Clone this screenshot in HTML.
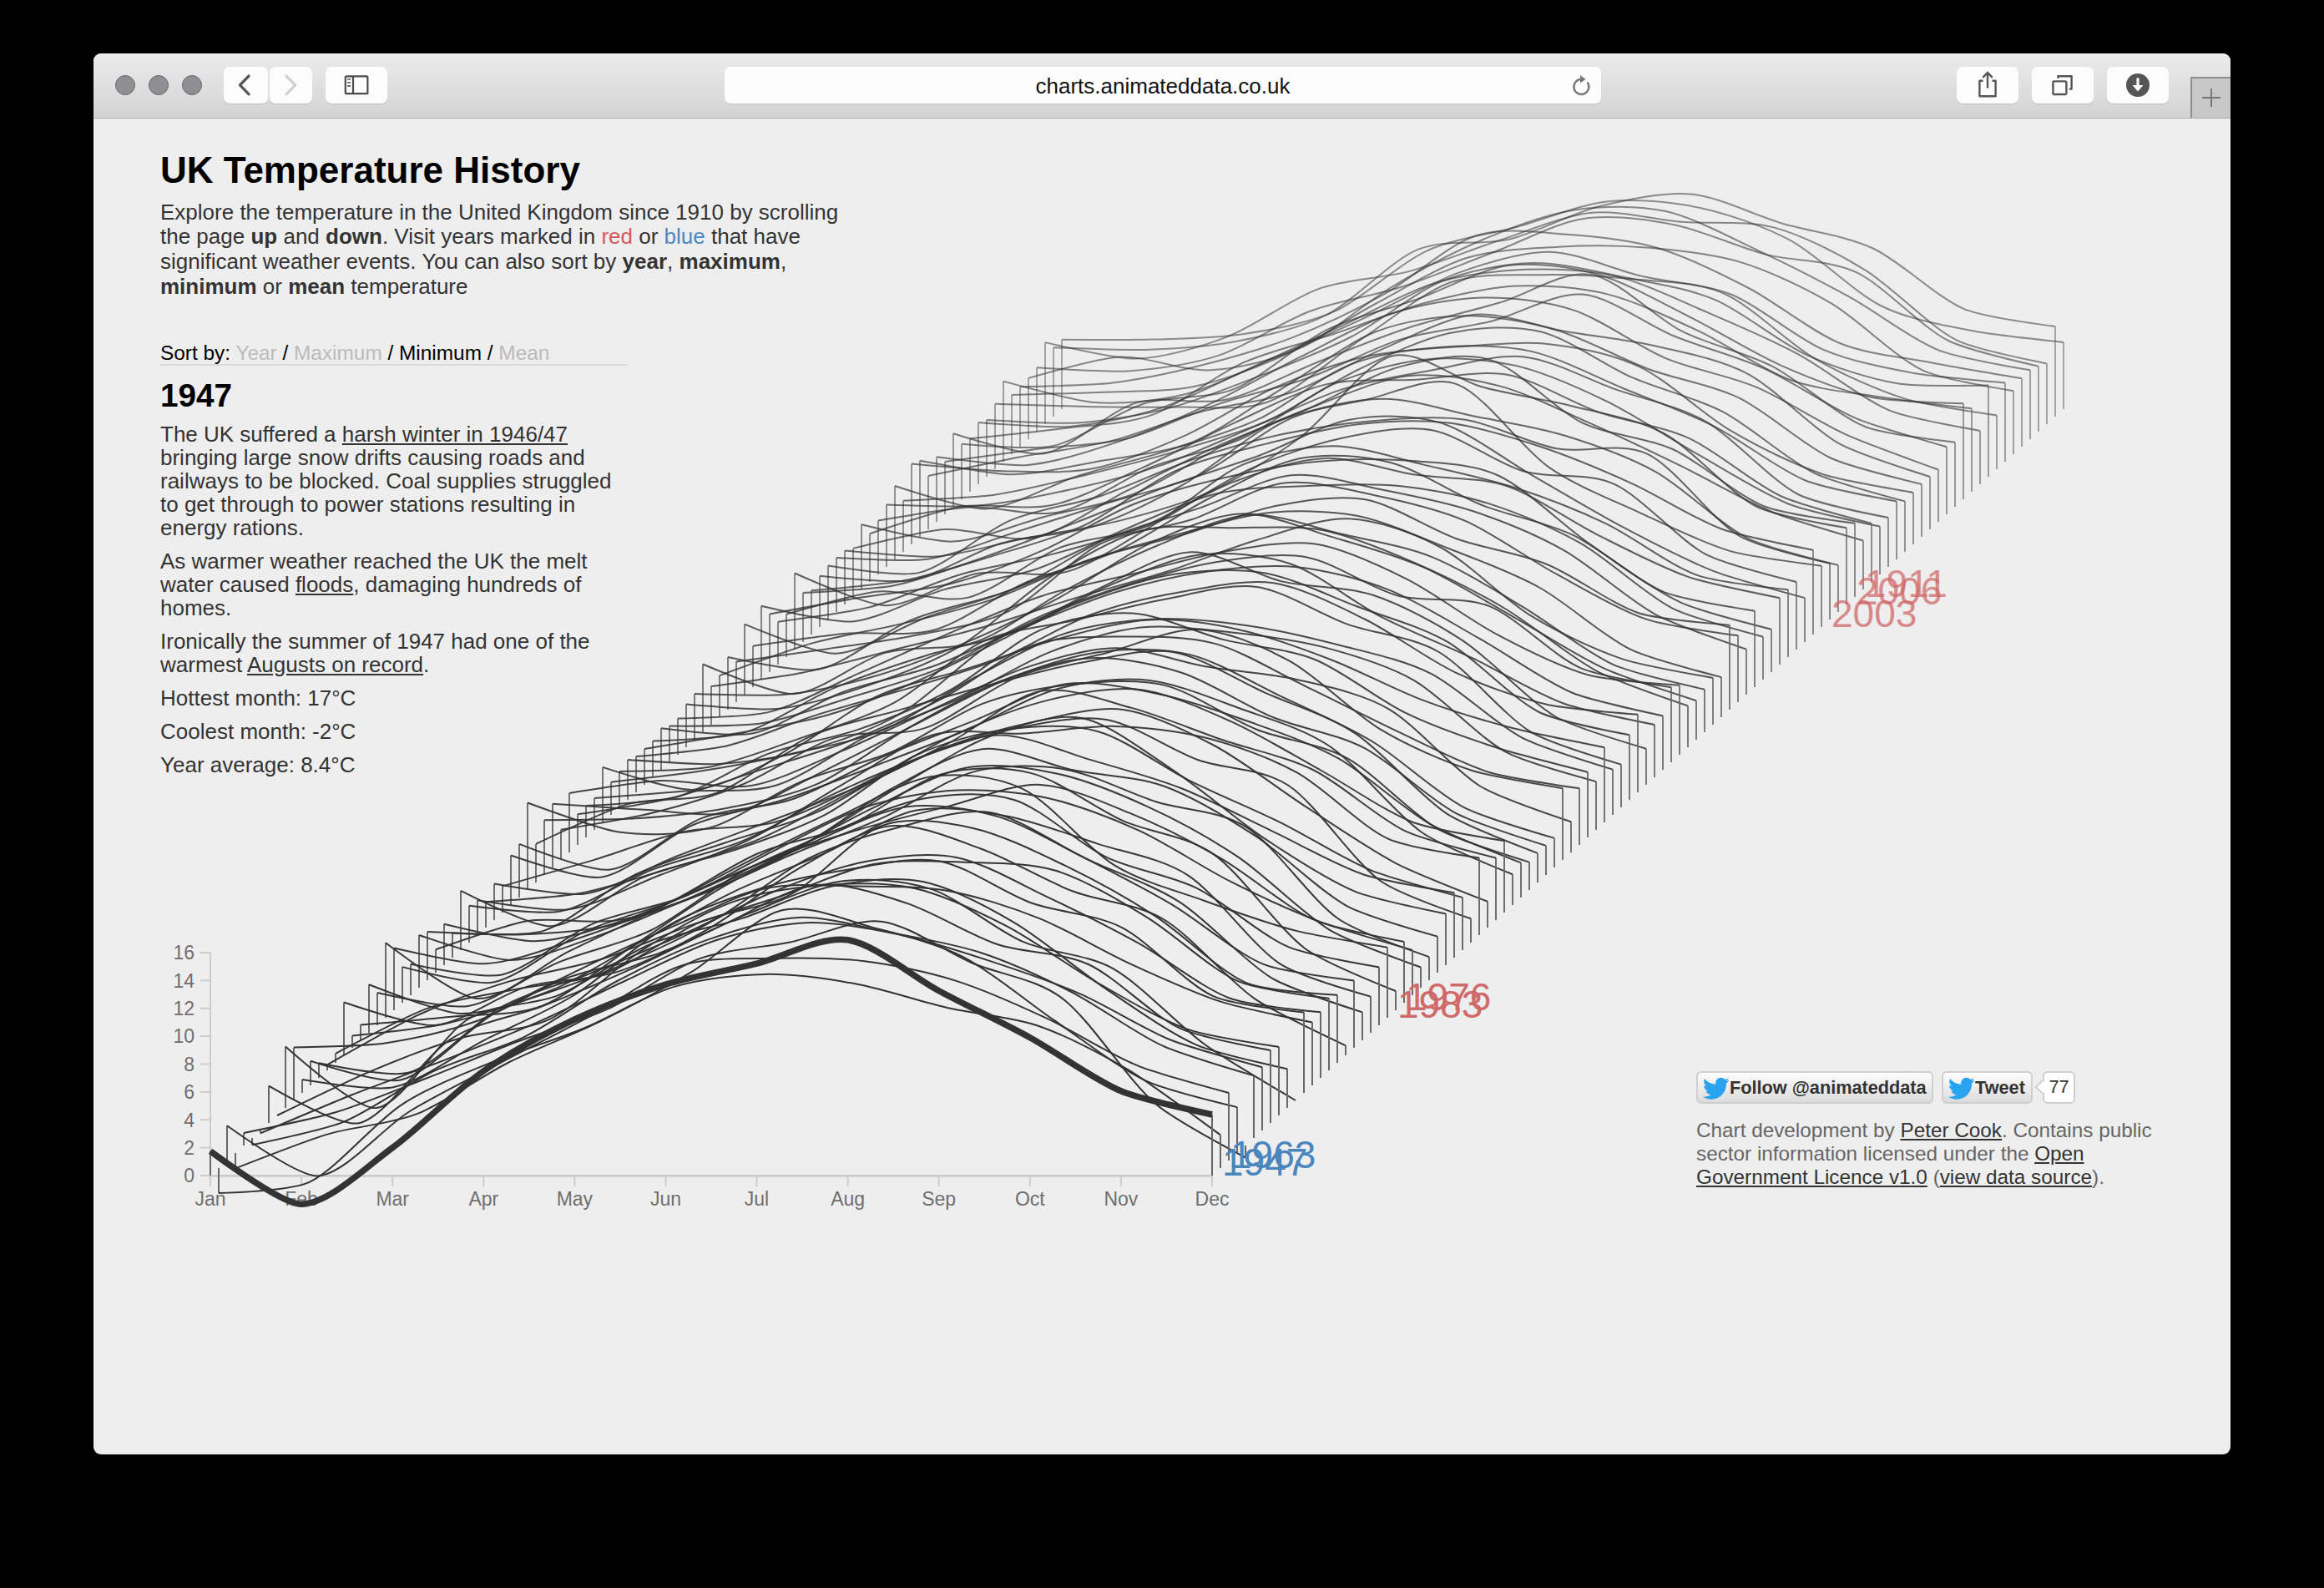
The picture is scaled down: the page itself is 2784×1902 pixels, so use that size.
<!DOCTYPE html>
<html><head><meta charset="utf-8">
<style>
*{margin:0;padding:0;box-sizing:border-box}
html,body{width:2784px;height:1902px;background:#000;overflow:hidden}
body{position:relative;font-family:"Liberation Sans",sans-serif}
#win{position:absolute;left:112px;top:64px;width:2560px;height:1678px;background:#eee;border-radius:9px;overflow:hidden}
#tb{position:absolute;left:0;top:0;width:2560px;height:78px;background:linear-gradient(#ececec,#d3d3d3);border-bottom:1px solid #a9a9a9}
.tl{position:absolute;top:26px;width:24px;height:24px;border-radius:50%;background:#8f8e93;border:1.5px solid #69686d}
.btn{position:absolute;top:16px;height:44px;background:#fcfcfc;border-radius:7px;box-shadow:0 1px 0 #bdbdbd}
#url{position:absolute;left:756px;top:16px;width:1050px;height:44px;background:#fdfdfd;border-radius:7px;box-shadow:0 1px 0 #c4c4c4}
#urltext{position:absolute;left:0;width:100%;top:8px;text-align:center;font-size:26px;color:#111;letter-spacing:0px}
#newtab{position:absolute;left:2512px;top:28px;width:48px;height:49px;background:#c8c8c8;border-left:2px solid #8e8e8e;border-top:2px solid #8e8e8e}
.pg{position:absolute;color:#333}
h1{position:absolute;left:80px;top:118px;font-size:44px;line-height:44px;font-weight:bold;color:#000;white-space:nowrap}
#intro{left:80px;top:175.5px;font-size:26px;line-height:29.8px;white-space:nowrap}
#intro b{color:#333}
.red{color:#d55a5a}.blue{color:#4a87c4}
#sort{left:80px;top:344.5px;width:560px;height:29px;font-size:24.4px;line-height:28px;color:#000;border-bottom:2px solid #dadada;white-space:nowrap}
#sort .g{color:#bbb}
#year{left:80px;top:390px;font-size:38.7px;line-height:40px;font-weight:bold;color:#000}
#story{left:80px;top:442px;font-size:26px;line-height:28px;white-space:nowrap}
#story p{margin-bottom:12px}
#story a{color:#333;text-decoration:underline}
#credits{left:1920px;top:1276px;font-size:24.3px;line-height:28px;color:#666;white-space:nowrap}
#credits a{color:#333;text-decoration:underline}
.tw{position:absolute;top:1218.5px;height:39px;border:2px solid #cfcfcf;border-radius:6px;background:linear-gradient(#fdfdfd,#dcdcdc);font-weight:bold;font-size:21.7px;line-height:34px;color:#333;white-space:nowrap}
.tw .bird{position:absolute;left:6px;top:5px}
.tw span{position:absolute;left:38px;top:1.5px}
#follow{left:1920px;width:284px}
#tweet{left:2214px;width:109px}
#count{position:absolute;left:2335px;top:1218.5px;width:39px;height:39px;border:2px solid #cfcfcf;border-radius:6px;background:#fff;font-size:21.7px;line-height:34px;color:#333;text-align:center}
#nub{position:absolute;left:-9px;top:11px;width:12px;height:12px;background:#fff;border-left:2px solid #cfcfcf;border-bottom:2px solid #cfcfcf;transform:rotate(45deg)}
#chart{position:absolute;left:-112px;top:-64px}
</style></head><body>
<div id="win">
 <div id="tb">
  <div class="tl" style="left:26px"></div>
  <div class="tl" style="left:66px"></div>
  <div class="tl" style="left:106px"></div>
  <div class="btn" style="left:156px;width:53px"><svg width="53" height="44"><path d="M30.1,11 L19.4,21.8 L30.1,32.8" stroke="#555" stroke-width="3.2" fill="none" stroke-linecap="round" stroke-linejoin="round"/></svg></div>
  <div class="btn" style="left:211px;width:51px"><svg width="51" height="44"><path d="M20,11 L30.7,21.8 L20,32.8" stroke="#d0d0d0" stroke-width="3.2" fill="none" stroke-linecap="round" stroke-linejoin="round"/></svg></div>
  <div class="btn" style="left:278px;width:74px"><svg width="74" height="44"><rect x="23.8" y="11.4" width="26.6" height="20.8" rx="1.5" stroke="#4a4a4a" stroke-width="2.2" fill="none"/><line x1="33" y1="11" x2="33" y2="33" stroke="#4a4a4a" stroke-width="2.2"/><line x1="26.2" y1="14.9" x2="30" y2="14.9" stroke="#666" stroke-width="1.8"/><line x1="26.2" y1="18.9" x2="30" y2="18.9" stroke="#666" stroke-width="1.8"/><line x1="26.2" y1="23" x2="30" y2="23" stroke="#666" stroke-width="1.8"/></svg></div>
  <div id="url"><div id="urltext">charts.animateddata.co.uk</div>
   <svg style="position:absolute;left:1011px;top:6px" width="30" height="32"><path d="M22.5,12.5 A9,9 0 1 1 15,9" stroke="#777" stroke-width="2.4" fill="none"/><path d="M14,4 L20.5,9 L14,13.5 Z" fill="#777"/></svg>
  </div>
  <div class="btn" style="left:2232px;width:74px"><svg width="74" height="44"><path d="M31.5,16.8 H27.4 V35.2 H46.6 V16.8 H42.5" stroke="#555" stroke-width="2.4" fill="none" stroke-linejoin="round"/><line x1="37" y1="7" x2="37" y2="25.5" stroke="#555" stroke-width="2.4"/><path d="M31.3,12.8 L37,7 L42.7,12.8" stroke="#555" stroke-width="2.4" fill="none"/></svg></div>
  <div class="btn" style="left:2322px;width:74px"><svg width="74" height="44"><rect x="25.4" y="17.4" width="16" height="15.6" rx="1.5" stroke="#555" stroke-width="2.4" fill="none"/><path d="M31.4,13.8 V11.2 H47.6 V26.6 H44.8" stroke="#555" stroke-width="2.4" fill="none" stroke-linejoin="round"/></svg></div>
  <div class="btn" style="left:2412px;width:74px"><svg width="74" height="44"><circle cx="37" cy="22" r="14" fill="#555"/><path d="M37,13.5 V27" stroke="#fff" stroke-width="3.2"/><path d="M30.5,22 L37,29.5 L43.5,22 Z" fill="#fff"/></svg></div>
  <div id="newtab"><svg width="46" height="47"><path d="M12,23 H34 M23,12 V34" stroke="#777" stroke-width="2"/></svg></div>
 </div>
 <h1>UK Temperature History</h1>
 <div class="pg" id="intro">Explore the temperature in the United Kingdom since 1910 by scrolling<br>the page <b>up</b> and <b>down</b>. Visit years marked in <span class="red">red</span> or <span class="blue">blue</span> that have<br>significant weather events. You can also sort by <b>year</b>, <b>maximum</b>,<br><b>minimum</b> or <b>mean</b> temperature</div>
 <div class="pg" id="sort">Sort by: <span class="g">Year</span> / <span class="g">Maximum</span> / Minimum / <span class="g">Mean</span></div>
 <div class="pg" id="year">1947</div>
 <div class="pg" id="story">
  <p>The UK suffered a <a>harsh winter in 1946/47</a><br>bringing large snow drifts causing roads and<br>railways to be blocked. Coal supplies struggled<br>to get through to power stations resulting in<br>energy rations.</p>
  <p>As warmer weather reached the UK the melt<br>water caused <a>floods</a>, damaging hundreds of<br>homes.</p>
  <p>Ironically the summer of 1947 had one of the<br>warmest <a>Augusts on record</a>.</p>
  <p>Hottest month: 17°C</p>
  <p>Coolest month: -2°C</p>
  <p>Year average: 8.4°C</p>
 </div>
 <div class="tw" id="follow"><svg class="bird" width="32" height="28" viewBox="0 0 24 20"><path d="M23.6,2.4c-0.9,0.4-1.8,0.6-2.8,0.8c1-0.6,1.8-1.5,2.1-2.7c-0.9,0.6-2,1-3.1,1.2C18.9,0.7,17.6,0.1,16.2,0.1c-2.7,0-4.8,2.2-4.8,4.8c0,0.4,0,0.8,0.1,1.1C7.4,5.8,3.9,3.9,1.6,1C1.2,1.7,0.9,2.6,0.9,3.5c0,1.7,0.9,3.2,2.2,4C2.3,7.5,1.5,7.3,0.9,7v0.1c0,2.3,1.7,4.3,3.9,4.7c-0.4,0.1-0.8,0.2-1.3,0.2c-0.3,0-0.6,0-0.9-0.1c0.6,1.9,2.4,3.3,4.5,3.4c-1.7,1.3-3.7,2.1-6,2.1c-0.4,0-0.8,0-1.2-0.1c2.1,1.4,4.7,2.2,7.4,2.2c8.9,0,13.7-7.4,13.7-13.7V5.2C22.1,4.5,22.9,3.6,23.6,2.4z" fill="#2aa3ef"/></svg><span>Follow @animateddata</span></div>
 <div class="tw" id="tweet"><svg class="bird" width="32" height="28" viewBox="0 0 24 20"><path d="M23.6,2.4c-0.9,0.4-1.8,0.6-2.8,0.8c1-0.6,1.8-1.5,2.1-2.7c-0.9,0.6-2,1-3.1,1.2C18.9,0.7,17.6,0.1,16.2,0.1c-2.7,0-4.8,2.2-4.8,4.8c0,0.4,0,0.8,0.1,1.1C7.4,5.8,3.9,3.9,1.6,1C1.2,1.7,0.9,2.6,0.9,3.5c0,1.7,0.9,3.2,2.2,4C2.3,7.5,1.5,7.3,0.9,7v0.1c0,2.3,1.7,4.3,3.9,4.7c-0.4,0.1-0.8,0.2-1.3,0.2c-0.3,0-0.6,0-0.9-0.1c0.6,1.9,2.4,3.3,4.5,3.4c-1.7,1.3-3.7,2.1-6,2.1c-0.4,0-0.8,0-1.2-0.1c2.1,1.4,4.7,2.2,7.4,2.2c8.9,0,13.7-7.4,13.7-13.7V5.2C22.1,4.5,22.9,3.6,23.6,2.4z" fill="#2aa3ef"/></svg><span>Tweet</span></div>
 <div id="count"><div id="nub"></div>77</div>
 <div class="pg" id="credits">Chart development by <a>Peter Cook</a>. Contains public<br>sector information licensed under the <a>Open</a><br><a>Government Licence v1.0</a> (<a>view data source</a>).</div>
 <svg id="chart" width="2784" height="1902">
 <g fill="none" stroke="#ccc">
<path d="M252,1141V1408" stroke-width="2"/>
<path d="M252,1408.4H1452" stroke-width="2.6"/>
<path d="M240,1408.0H252" stroke-width="2"/>
<path d="M240,1374.6H252" stroke-width="2"/>
<path d="M240,1341.2H252" stroke-width="2"/>
<path d="M240,1307.9H252" stroke-width="2"/>
<path d="M240,1274.5H252" stroke-width="2"/>
<path d="M240,1241.1H252" stroke-width="2"/>
<path d="M240,1207.7H252" stroke-width="2"/>
<path d="M240,1174.3H252" stroke-width="2"/>
<path d="M240,1141.0H252" stroke-width="2"/>
<path d="M252.0,1408V1421" stroke-width="2"/>
<path d="M361.1,1408V1421" stroke-width="2"/>
<path d="M470.2,1408V1421" stroke-width="2"/>
<path d="M579.3,1408V1421" stroke-width="2"/>
<path d="M688.4,1408V1421" stroke-width="2"/>
<path d="M797.5,1408V1421" stroke-width="2"/>
<path d="M906.5,1408V1421" stroke-width="2"/>
<path d="M1015.6,1408V1421" stroke-width="2"/>
<path d="M1124.7,1408V1421" stroke-width="2"/>
<path d="M1233.8,1408V1421" stroke-width="2"/>
<path d="M1342.9,1408V1421" stroke-width="2"/>
<path d="M1452.0,1408V1421" stroke-width="2"/>
</g>
<g font-family="Liberation Sans" font-size="23" fill="#6e6e6e">
<text x="233" y="1416.3" text-anchor="end">0</text>
<text x="233" y="1382.9" text-anchor="end">2</text>
<text x="233" y="1349.5" text-anchor="end">4</text>
<text x="233" y="1316.2" text-anchor="end">6</text>
<text x="233" y="1282.8" text-anchor="end">8</text>
<text x="233" y="1249.4" text-anchor="end">10</text>
<text x="233" y="1216.0" text-anchor="end">12</text>
<text x="233" y="1182.6" text-anchor="end">14</text>
<text x="233" y="1149.3" text-anchor="end">16</text>
<text x="252.0" y="1443.5" text-anchor="middle">Jan</text>
<text x="361.1" y="1443.5" text-anchor="middle">Feb</text>
<text x="470.2" y="1443.5" text-anchor="middle">Mar</text>
<text x="579.3" y="1443.5" text-anchor="middle">Apr</text>
<text x="688.4" y="1443.5" text-anchor="middle">May</text>
<text x="797.5" y="1443.5" text-anchor="middle">Jun</text>
<text x="906.5" y="1443.5" text-anchor="middle">Jul</text>
<text x="1015.6" y="1443.5" text-anchor="middle">Aug</text>
<text x="1124.7" y="1443.5" text-anchor="middle">Sep</text>
<text x="1233.8" y="1443.5" text-anchor="middle">Oct</text>
<text x="1342.9" y="1443.5" text-anchor="middle">Nov</text>
<text x="1452.0" y="1443.5" text-anchor="middle">Dec</text>
</g><g opacity="0.530"><path d="M1272.0,490.0V406.8M2472.0,410.0V490.0" stroke="#666" stroke-width="2" fill="none"/><path d="M1272,406.8Q1359.3,407.3,1381.1,406.6C1413.8,405.6,1457.5,405.1,1490.2,400S1566.5,387.6,1599.3,372.7S1675.6,315.9,1708.4,300.8S1784.7,280.7,1817.5,271.8S1893.8,244.6,1926.5,241.2S2002.9,241.8,2035.6,248.8S2112,270.2,2144.7,287.9S2221.1,350.2,2253.8,366.5S2330.2,389.8,2362.9,396.3Q2384.7,400.7,2472,410" stroke="#333" stroke-width="2" fill="none"/></g>
<g opacity="0.538"><path d="M1262.0,499.0V416.3M2462.0,391.1V499.0" stroke="#666" stroke-width="2" fill="none"/><path d="M1262,416.3Q1349.3,419.7,1371.1,419C1403.8,417.9,1447.5,415.3,1480.2,409S1556.5,393.6,1589.3,377.1S1665.6,312.4,1698.4,298.9S1774.7,294.5,1807.5,286.7S1883.8,255.1,1916.5,247S1992.9,229.5,2025.6,232.5S2102,257.8,2134.7,267.5S2211.1,282.1,2243.8,297.5S2320.2,356.1,2352.9,370.2Q2374.7,379.5,2462,391.1" stroke="#333" stroke-width="2" fill="none"/></g>
<g opacity="0.546"><path d="M1252.0,508.0V410.1M2452.0,435.4V508.0" stroke="#666" stroke-width="2" fill="none"/><path d="M1252,410.1Q1339.3,430.2,1361.1,429.6C1393.8,428.6,1437.5,416,1470.2,403.4S1546.5,357.9,1579.3,346.1S1655.6,333.7,1688.4,324.9S1764.7,298,1797.5,287.4S1873.8,257.9,1906.5,254.7S1982.9,263.1,2015.6,265.8S2092,263.8,2124.7,272.4S2201.1,303,2233.8,323.1S2310.2,390,2342.9,406.9Q2364.7,418.1,2452,435.4" stroke="#333" stroke-width="2" fill="none"/></g>
<g opacity="0.555"><path d="M1242.0,517.0V440.3M2442.0,438.7V517.0" stroke="#666" stroke-width="2" fill="none"/><path d="M1242,440.3Q1329.3,445.8,1351.1,444.4C1383.8,442.1,1427.5,436.3,1460.2,425.6S1536.5,385.1,1569.3,372.8S1645.6,354.3,1678.4,343.8S1754.7,315,1787.5,302.8S1863.8,267,1896.5,262S1972.9,262.8,2005.6,269.2S2082,296.1,2114.7,304.6S2191.1,310.7,2223.8,326.2S2300.2,390.6,2332.9,407.5Q2354.7,418.7,2442,438.7" stroke="#333" stroke-width="2" fill="none"/></g>
<g opacity="0.563"><path d="M1232.0,526.0V452.9M2432.0,443.3V526.0" stroke="#666" stroke-width="2" fill="none"/><path d="M1232,452.9Q1319.3,428.5,1341.1,427.6C1373.8,426.1,1417.5,445,1450.2,443.3S1526.5,431.2,1559.3,416.2S1635.6,362.5,1668.4,343S1744.7,300.3,1777.5,286.5S1853.8,256.4,1886.5,251.4S1962.9,245.9,1995.6,253.1S2072,284,2104.7,299.3S2181.1,336.7,2213.8,354.7S2290.2,406.3,2322.9,419.6Q2344.7,428.4,2432,443.3" stroke="#333" stroke-width="2" fill="none"/></g>
<g opacity="0.571"><path d="M1222.0,535.0V463.2M2422.0,453.3V535.0" stroke="#666" stroke-width="2" fill="none"/><path d="M1222,463.2Q1309.3,461.3,1331.1,458.7C1363.8,454.9,1407.5,445.6,1440.2,437.3S1516.5,416.7,1549.3,403.9S1625.6,370.5,1658.4,352.2S1734.7,293.2,1767.5,282.5S1843.8,278.5,1876.5,280.7S1952.9,287.3,1985.6,297S2062,327.9,2094.7,345S2171.1,397.6,2203.8,411S2280.2,427.9,2312.9,434.2Q2334.7,438.5,2422,453.3" stroke="#333" stroke-width="2" fill="none"/></g>
<g opacity="0.579"><path d="M1212.0,544.0V473.0M2412.0,468.2V544.0" stroke="#666" stroke-width="2" fill="none"/><path d="M1212,473Q1299.3,470.7,1321.1,469.7C1353.8,468.2,1397.5,469.7,1430.2,463S1506.5,440,1539.3,425.1S1615.6,381,1648.4,363.5S1724.7,319,1757.5,308.8S1833.8,297.6,1866.5,295.7S1942.9,294.1,1975.6,296.8S2052,303.9,2084.7,313.9S2161.1,343.9,2193.8,363.4S2270.2,427.7,2302.9,443.4Q2324.7,453.9,2412,468.2" stroke="#333" stroke-width="2" fill="none"/></g>
<g opacity="0.586"><path d="M1202.0,553.0V456.6M2402.0,458.5V553.0" stroke="#666" stroke-width="2" fill="none"/><path d="M1202,456.6Q1289.3,480.5,1311.1,482C1343.8,484.3,1387.5,480.2,1420.2,472S1496.5,441.4,1529.3,427.5S1605.6,394.2,1638.4,379.1S1714.7,338.3,1747.5,326.6S1823.8,301.1,1856.5,301.7S1932.9,322.8,1965.6,330.5S2042,339.7,2074.7,353S2151.1,404.5,2183.8,418.6S2260.2,441,2292.9,447Q2314.7,450.9,2402,458.5" stroke="#333" stroke-width="2" fill="none"/></g>
<g opacity="0.594"><path d="M1192.0,562.0V483.8M2392.0,497.5V562.0" stroke="#666" stroke-width="2" fill="none"/><path d="M1192,483.8Q1279.3,486.6,1301.1,487C1333.8,487.5,1377.5,488.4,1410.2,487.5S1486.5,493.1,1519.3,481.2S1595.6,429.3,1628.4,407.9S1704.7,350.1,1737.5,338.3S1813.8,329.8,1846.5,329.2S1922.9,331,1955.6,334.3S2032,337.1,2064.7,351.3S2141.1,410.3,2173.8,429.3S2250.2,467.7,2282.9,477.9Q2304.7,484.8,2392,497.5" stroke="#333" stroke-width="2" fill="none"/></g>
<g opacity="0.602"><path d="M1182.0,571.0V502.9M2382.0,461.4V571.0" stroke="#666" stroke-width="2" fill="none"/><path d="M1182,502.9Q1269.3,507.9,1291.1,506.5C1323.8,504.4,1367.5,497.4,1400.2,488.9S1476.5,462.9,1509.3,450.1S1585.6,420.5,1618.4,403.5S1694.7,350.2,1727.5,336.9S1803.8,315.8,1836.5,315.1S1912.9,325.5,1945.6,332.1S2022,345.1,2054.7,359.1S2131.1,409.9,2163.8,424.9S2240.2,453.8,2272.9,459.3Q2294.7,463,2382,461.4" stroke="#333" stroke-width="2" fill="none"/></g>
<g opacity="0.610"><path d="M1172.0,580.0V505.9M2372.0,515.9V580.0" stroke="#666" stroke-width="2" fill="none"/><path d="M1172,505.9Q1259.3,512.6,1281.1,510.9C1313.8,508.3,1357.5,499.4,1390.2,488.8S1466.5,455,1499.3,440.2S1575.6,404.9,1608.4,389.8S1684.7,349.5,1717.5,339.4S1793.8,324.1,1826.5,322.8S1902.9,323.3,1935.6,330.9S2012,359.9,2044.7,373.9S2121.1,406.5,2153.8,424.1S2230.2,477.6,2262.9,491.4Q2284.7,500.6,2372,515.9" stroke="#333" stroke-width="2" fill="none"/></g>
<g opacity="0.617"><path d="M1162.0,589.0V525.2M2362.0,489.3V589.0" stroke="#666" stroke-width="2" fill="none"/><path d="M1162,525.2Q1249.3,516.2,1271.1,513.4C1303.8,509.1,1347.5,508.8,1380.2,496.9S1456.5,449,1489.3,434.4S1565.6,410.4,1598.4,399.7S1674.7,371.3,1707.5,362.7S1783.8,344.2,1816.5,342.6S1892.9,344.3,1925.6,352.4S2002,381.1,2034.7,396.4S2111.1,442.9,2143.8,454.8S2220.2,470.4,2252.9,475.6Q2274.7,479.1,2362,489.3" stroke="#333" stroke-width="2" fill="none"/></g>
<g opacity="0.625"><path d="M1152.0,598.0V531.7M2352.0,483.3V598.0" stroke="#666" stroke-width="2" fill="none"/><path d="M1152,531.7Q1239.3,539,1261.1,534.2C1293.8,527,1337.5,493.8,1370.2,483.5S1446.5,478.8,1479.3,465.6S1555.6,411.7,1588.4,395.6S1664.7,370.1,1697.5,358.5S1773.8,322.5,1806.5,318.1S1882.9,320,1915.6,329.2S1992,363.6,2024.7,379.9S2101.1,423.4,2133.8,437.8S2210.2,469.1,2242.9,476Q2264.7,480.5,2352,483.3" stroke="#333" stroke-width="2" fill="none"/></g>
<g opacity="0.632"><path d="M1142.0,607.0V519.2M2342.0,529.7V607.0" stroke="#666" stroke-width="2" fill="none"/><path d="M1142,519.2Q1229.3,546.8,1251.1,543.2C1283.8,537.8,1327.5,492.6,1360.2,482.9S1436.5,485.8,1469.3,478.4S1545.6,446.6,1578.4,433.7S1654.7,403.1,1687.5,392.5S1763.8,372.1,1796.5,362.5S1872.9,323.6,1905.6,328.7S1982,380.2,2014.7,396.7S2091.1,422,2123.8,439.1S2200.2,496.9,2232.9,510.5Q2254.7,519.6,2342,529.7" stroke="#333" stroke-width="2" fill="none"/></g>
<g opacity="0.640"><path d="M1132.0,616.0V553.0M2332.0,535.2V616.0" stroke="#666" stroke-width="2" fill="none"/><path d="M1132,553Q1219.3,540.7,1241.1,537.9C1273.8,533.7,1317.5,533.3,1350.2,525.2S1426.5,495,1459.3,484.1S1535.6,463.9,1568.4,452.3S1644.7,416.7,1677.5,406.6S1753.8,392.9,1786.5,384.8S1862.9,350,1895.6,352.6S1972,388.9,2004.7,402.3S2081.1,426.8,2113.8,441.6S2190.2,486.8,2222.9,500.8Q2244.7,510.2,2332,535.2" stroke="#333" stroke-width="2" fill="none"/></g>
<g opacity="0.647"><path d="M1122.0,625.0V547.3M2322.0,562.5V625.0" stroke="#666" stroke-width="2" fill="none"/><path d="M1122,547.3Q1209.3,558.8,1231.1,556.9C1263.8,554.2,1307.5,539.9,1340.2,528.9S1416.5,499.1,1449.3,483.9S1525.6,443.5,1558.4,427.2S1634.7,386.1,1667.5,375.5S1743.8,357.1,1776.5,356.5S1852.9,360.7,1885.6,371.6S1962,415,1994.7,428.8S2071.1,449.8,2103.8,463.7S2180.2,506.4,2212.9,521.2Q2234.7,531.1,2322,562.5" stroke="#333" stroke-width="2" fill="none"/></g>
<g opacity="0.654"><path d="M1112.0,634.0V569.9M2312.0,571.0V634.0" stroke="#666" stroke-width="2" fill="none"/><path d="M1112,569.9Q1199.3,551.6,1221.1,547.4C1253.8,541.2,1297.5,536.5,1330.2,528.4S1406.5,501.8,1439.3,493S1515.6,481,1548.4,469.6S1624.7,431.4,1657.5,417.4S1733.8,379.8,1766.5,376.8S1842.9,391.3,1875.6,397S1952,407.2,1984.7,414.8S2061.1,430.3,2093.8,447.8S2170.2,512.7,2202.9,531.2Q2224.7,543.5,2312,571" stroke="#333" stroke-width="2" fill="none"/></g>
<g opacity="0.661"><path d="M1102.0,643.0V551.8M2302.0,579.9V643.0" stroke="#666" stroke-width="2" fill="none"/><path d="M1102,551.8Q1189.3,568.3,1211.1,568.3C1243.8,568.2,1287.5,557.6,1320.2,551.8S1396.5,542.3,1429.3,529.1S1505.6,483.5,1538.4,463.8S1614.7,410.4,1647.5,397.5S1723.8,378.5,1756.5,378.2S1832.9,386.1,1865.6,395.7S1942,429.9,1974.7,442S2051.1,460.9,2083.8,476.9S2160.2,533,2192.9,548.5Q2214.7,558.8,2302,579.9" stroke="#333" stroke-width="2" fill="none"/></g>
<g opacity="0.669"><path d="M1092.0,652.0V555.5M2292.0,589.9V652.0" stroke="#666" stroke-width="2" fill="none"/><path d="M1092,555.5Q1179.3,563.6,1201.1,564.2C1233.8,565,1277.5,567.4,1310.2,561S1386.5,536.4,1419.3,521.8S1495.6,477.9,1528.4,463.6S1604.7,433.9,1637.5,426.7S1713.8,417.4,1746.5,415.3S1822.9,408.6,1855.6,412.2S1932,424,1964.7,439.6S2041.1,497,2073.8,516.2S2150.2,556.7,2182.9,567.7Q2204.7,575.1,2292,589.9" stroke="#333" stroke-width="2" fill="none"/></g>
<g opacity="0.676"><path d="M1082.0,661.0V599.7M2282.0,600.4V661.0" stroke="#666" stroke-width="2" fill="none"/><path d="M1082,599.7Q1169.3,595.7,1191.1,592.7C1223.8,588.1,1267.5,576.8,1300.2,569S1376.5,550.2,1409.3,540.4S1485.6,518.6,1518.4,504S1594.7,458.2,1627.5,442.5S1703.8,405.7,1736.5,398.9S1812.9,389.3,1845.6,397.2S1922,437.5,1954.7,451.9S2031.1,476.1,2063.8,493.2S2140.2,550.2,2172.9,566.3Q2194.7,577,2282,600.4" stroke="#333" stroke-width="2" fill="none"/></g>
<g opacity="0.683"><path d="M1072.0,670.0V582.0M2272.0,600.4V670.0" stroke="#666" stroke-width="2" fill="none"/><path d="M1072,582Q1159.3,610.5,1181.1,609.4C1213.8,607.6,1257.5,580.9,1290.2,570.4S1366.5,549.9,1399.3,539.6S1475.6,517.2,1508.4,501.7S1584.7,449.5,1617.5,436.6S1693.8,418,1726.5,415.7S1802.9,413.6,1835.6,421.1S1912,451.8,1944.7,465.2S2021.1,494.3,2053.8,510.8S2130.2,562.1,2162.9,575.5Q2184.7,584.4,2272,600.4" stroke="#333" stroke-width="2" fill="none"/></g>
<g opacity="0.690"><path d="M1062.0,679.0V604.5M2262.0,620.0V679.0" stroke="#666" stroke-width="2" fill="none"/><path d="M1062,604.5Q1149.3,607.6,1171.1,605.8C1203.8,603.1,1247.5,594,1280.2,586.8S1356.5,569,1389.3,557.9S1465.6,526.5,1498.4,512.8S1574.7,476.9,1607.5,466.4S1683.8,449.1,1716.5,443.2S1792.9,424,1825.6,427.4S1902,454.4,1934.7,466.1S2011.1,486.2,2043.8,505S2120.2,574.3,2152.9,591.5Q2174.7,603,2262,620" stroke="#333" stroke-width="2" fill="none"/></g>
<g opacity="0.696"><path d="M1052.0,688.0V623.4M2252.0,630.6V688.0" stroke="#666" stroke-width="2" fill="none"/><path d="M1052,623.4Q1139.3,608.5,1161.1,607.4C1193.8,605.9,1237.5,620.2,1270.2,613S1346.5,572.6,1379.3,559.4S1455.6,540,1488.4,525.1S1564.7,474.4,1597.5,460.2S1673.8,434.1,1706.5,430.7S1782.9,430.4,1815.6,437.9S1892,464.8,1924.7,480.7S2001.1,525.7,2033.8,544.2S2110.2,590.7,2142.9,603.7Q2164.7,612.3,2252,630.6" stroke="#333" stroke-width="2" fill="none"/></g>
<g opacity="0.703"><path d="M1042.0,697.0V639.2M2242.0,626.9V697.0" stroke="#666" stroke-width="2" fill="none"/><path d="M1042,639.2Q1129.3,610.2,1151.1,606.8C1183.8,601.7,1227.5,612.1,1260.2,605.1S1336.5,574.6,1369.3,559.9S1445.6,521.5,1478.4,506.6S1554.7,468.4,1587.5,460.6S1663.8,456.6,1696.5,454.8S1772.9,443,1805.6,448.8S1882,482.1,1914.7,493.5S1991.1,510.1,2023.8,525.2S2100.2,578.8,2132.9,594Q2154.7,604.2,2242,626.9" stroke="#333" stroke-width="2" fill="none"/></g>
<g opacity="0.710"><path d="M1032.0,706.0V628.3M2232.0,647.5V706.0" stroke="#666" stroke-width="2" fill="none"/><path d="M1032,628.3Q1119.3,649.5,1141.1,648.6C1173.8,647.2,1217.5,627.8,1250.2,619.2S1326.5,604.3,1359.3,591.3S1435.6,548.1,1468.4,532.2S1544.7,497.8,1577.5,485.5S1653.8,453.8,1686.5,450.2S1762.9,453.6,1795.6,462.1S1872,492.5,1904.7,506.9S1981.1,542.2,2013.8,558.2S2090.2,599.8,2122.9,613.2Q2144.7,622.1,2232,647.5" stroke="#333" stroke-width="2" fill="none"/></g>
<g opacity="0.717"><path d="M1022.0,715.0V656.9M2222.0,626.8V715.0" stroke="#666" stroke-width="2" fill="none"/><path d="M1022,656.9Q1109.3,635.5,1131.1,634.1C1163.8,632.2,1207.5,650.7,1240.2,643.8S1316.5,604.6,1349.3,588.2S1425.6,549.2,1458.4,534.4S1534.7,503.6,1567.5,489.4S1643.8,448.2,1676.5,439.4S1752.9,421.1,1785.6,431.1S1862,490,1894.7,506S1971.1,522.9,2003.8,538S2080.2,592.9,2112.9,606.2Q2134.7,615.1,2222,626.8" stroke="#333" stroke-width="2" fill="none"/></g>
<g opacity="0.723"><path d="M1012.0,724.0V659.4M2212.0,632.3V724.0" stroke="#666" stroke-width="2" fill="none"/><path d="M1012,659.4Q1099.3,668.1,1121.1,666.6C1153.8,664.3,1197.5,650.6,1230.2,644.3S1306.5,632.3,1339.3,624.1S1415.6,604.3,1448.4,589.3S1524.7,548.4,1557.5,524S1633.8,435.8,1666.5,426.7S1742.9,454.5,1775.6,463.5S1852,478.3,1884.7,486.7S1961.1,501.5,1993.8,519.4S2070.2,589.1,2102.9,606Q2124.7,617.3,2212,632.3" stroke="#333" stroke-width="2" fill="none"/></g>
<g opacity="0.730"><path d="M1002.0,733.0V668.0M2202.0,676.9V733.0" stroke="#666" stroke-width="2" fill="none"/><path d="M1002,668Q1089.3,672.9,1111.1,669.7C1143.8,664.9,1187.5,646.4,1220.2,636.2S1296.5,612,1329.3,601.8S1405.6,583.3,1438.4,568.1S1514.7,514.2,1547.5,500.6S1623.8,478.1,1656.5,477.7S1732.9,491.8,1765.6,498.4S1842,511.7,1874.7,521.8S1951.1,547,1983.8,565.4S2060.2,627.7,2092.9,644.4Q2114.7,655.6,2202,676.9" stroke="#333" stroke-width="2" fill="none"/></g>
<g opacity="0.736"><path d="M992.0,742.0V677.4M2192.0,674.9V742.0" stroke="#666" stroke-width="2" fill="none"/><path d="M992,677.4Q1079.3,691.3,1101.1,685.9C1133.8,677.8,1177.5,637.3,1210.2,623.4S1286.5,604.7,1319.3,593.7S1395.6,561.6,1428.4,550.5S1504.7,526.7,1537.5,519.8S1613.8,506.6,1646.5,504S1722.9,497.8,1755.6,502.8S1832,531.2,1864.7,537.3S1941.1,528.2,1973.8,543.8S2050.2,621.8,2082.9,641.5Q2104.7,654.6,2192,674.9" stroke="#333" stroke-width="2" fill="none"/></g>
<g opacity="0.743"><path d="M982.0,751.0V689.7M2182.0,677.7V751.0" stroke="#666" stroke-width="2" fill="none"/><path d="M982,689.7Q1069.3,698.8,1091.1,694.9C1123.8,689,1167.5,660.1,1200.2,650.5S1276.5,641.2,1309.3,630.6S1385.6,598.5,1418.4,579.9S1494.7,521.4,1527.5,506.3S1603.8,485.7,1636.5,478.8S1712.9,448.4,1745.6,460.4S1822,536.1,1854.7,559.1S1931.1,598.6,1963.8,613.8S2040.2,650.5,2072.9,660.1Q2094.7,666.5,2182,677.7" stroke="#333" stroke-width="2" fill="none"/></g>
<g opacity="0.749"><path d="M972.0,760.0V707.2M2172.0,658.8V760.0" stroke="#666" stroke-width="2" fill="none"/><path d="M972,707.2Q1059.3,699.9,1081.1,695.8C1113.8,689.5,1157.5,675.6,1190.2,665.6S1266.5,644.3,1299.3,629S1375.6,578.5,1408.4,563.9S1484.7,539.7,1517.5,531.4S1593.8,511.9,1626.5,508.2S1702.9,502.6,1735.6,506.6S1812,524,1844.7,534.8S1921.1,563.8,1953.8,578.6S2030.2,621.8,2062.9,633.8Q2084.7,641.9,2172,658.8" stroke="#333" stroke-width="2" fill="none"/></g>
<g opacity="0.755"><path d="M962.0,769.0V710.0M2162.0,716.1V769.0" stroke="#666" stroke-width="2" fill="none"/><path d="M962,710Q1049.3,705.6,1071.1,701.2C1103.8,694.8,1147.5,678.2,1180.2,666.9S1256.5,638.3,1289.3,625.6S1365.6,594.5,1398.4,582.6S1474.7,558,1507.5,546S1583.8,508.8,1616.5,502.8S1692.9,496.5,1725.6,506.4S1802,550,1834.7,568.8S1911.1,613.9,1943.8,631.2S2020.2,671.3,2052.9,684.1Q2074.7,692.5,2162,716.1" stroke="#333" stroke-width="2" fill="none"/></g>
<g opacity="0.761"><path d="M952.0,778.0V686.5M2152.0,697.0V778.0" stroke="#666" stroke-width="2" fill="none"/><path d="M952,686.5Q1039.3,725.2,1061.1,725.2C1093.8,725.3,1137.5,693.2,1170.2,687.1S1246.5,693.8,1279.3,684.4S1355.6,643.3,1388.4,624.9S1464.7,576.7,1497.5,561.7S1573.8,532,1606.5,525S1682.9,509.4,1715.6,515.3S1792,554.6,1824.7,564.3S1901.1,565,1933.8,579.9S2010.2,646.1,2042.9,663.6Q2064.7,675.3,2152,697" stroke="#333" stroke-width="2" fill="none"/></g>
<g opacity="0.767"><path d="M942.0,787.0V735.6M2142.0,706.3V787.0" stroke="#666" stroke-width="2" fill="none"/><path d="M942,735.6Q1029.3,710.6,1051.1,708.6C1083.8,705.6,1127.5,723.5,1160.2,715.6S1236.5,669.1,1269.3,656.1S1345.6,643.6,1378.4,628.7S1454.7,571.4,1487.5,557.2S1563.8,534.2,1596.5,534.2S1672.9,549.1,1705.6,556.6S1782,573.4,1814.7,584S1891.1,611.4,1923.8,627.2S2000.2,677.1,2032.9,688.9Q2054.7,696.9,2142,706.3" stroke="#333" stroke-width="2" fill="none"/></g>
<g opacity="0.773"><path d="M932.0,796.0V744.7M2132.0,716.2V796.0" stroke="#666" stroke-width="2" fill="none"/><path d="M932,744.7Q1019.3,733.1,1041.1,727.4C1073.8,718.9,1117.5,697.7,1150.2,688.2S1226.5,672.7,1259.3,664.1S1335.6,643.9,1368.4,630.8S1444.7,589.6,1477.5,577.3S1553.8,550.2,1586.5,548.9S1662.9,563.6,1695.6,568.6S1772,571.2,1804.7,582S1881.1,624.2,1913.8,640.6S1990.2,679.8,2022.9,691.1Q2044.7,698.7,2132,716.2" stroke="#333" stroke-width="2" fill="none"/></g>
<g opacity="0.779"><path d="M922.0,805.0V735.4M2122.0,753.7V805.0" stroke="#666" stroke-width="2" fill="none"/><path d="M922,735.4Q1009.3,719.3,1031.1,715.6C1063.8,710.2,1107.5,707.3,1140.2,698.8S1216.5,673.4,1249.3,659.1S1325.6,616.8,1358.4,603.8S1434.7,579.6,1467.5,572S1543.8,556.1,1576.5,553S1652.9,549.1,1685.6,551.6S1762,554.5,1794.7,569.5S1871.1,628.3,1903.8,651S1980.2,705.9,2012.9,721.3Q2034.7,731.6,2122,753.7" stroke="#333" stroke-width="2" fill="none"/></g>
<g opacity="0.785"><path d="M912.0,814.0V725.8M2112.0,762.7V814.0" stroke="#666" stroke-width="2" fill="none"/><path d="M912,725.8Q999.3,746.3,1021.1,744.4C1053.8,741.5,1097.5,715.8,1130.2,706.4S1206.5,693.2,1239.3,682.3S1315.6,647.4,1348.4,633.7S1424.7,599.1,1457.5,591.3S1533.8,583.4,1566.5,582S1642.9,578.7,1675.6,581.9S1752,593.3,1784.7,603.6S1861.1,632.2,1893.8,650.9S1970.2,711.5,2002.9,728.3Q2024.7,739.5,2112,762.7" stroke="#333" stroke-width="2" fill="none"/></g>
<g opacity="0.791"><path d="M902.0,823.0V773.7M2102.0,731.7V823.0" stroke="#666" stroke-width="2" fill="none"/><path d="M902,773.7Q989.3,760.9,1011.1,758.9C1043.8,756,1087.5,763.4,1120.2,754.2S1196.5,711.7,1229.3,697.5S1305.6,674.8,1338.4,659.8S1414.7,614.1,1447.5,597.5S1523.8,555.7,1556.5,549.2S1632.9,545.7,1665.6,554S1742,591.7,1774.7,604.7S1851.1,625.1,1883.8,640.7S1960.2,695.2,1992.9,708.8Q2014.7,717.9,2102,731.7" stroke="#333" stroke-width="2" fill="none"/></g>
<g opacity="0.797"><path d="M892.0,832.0V747.7M2092.0,777.6V832.0" stroke="#666" stroke-width="2" fill="none"/><path d="M892,747.7Q979.3,783.6,1001.1,782.7C1033.8,781.5,1077.5,751.1,1110.2,739.2S1186.5,717.5,1219.3,703.3S1295.6,658.4,1328.4,644.2S1404.7,619.6,1437.5,608.4S1513.8,572.6,1546.5,569.3S1622.9,580.1,1655.6,586.5S1732,601.4,1764.7,612.3S1841.1,640.8,1873.8,659.3S1950.2,718.1,1982.9,735.8Q2004.7,747.7,2092,777.6" stroke="#333" stroke-width="2" fill="none"/></g>
<g opacity="0.803"><path d="M882.0,841.0V792.6M2082.0,761.3V841.0" stroke="#666" stroke-width="2" fill="none"/><path d="M882,792.6Q969.3,780.4,991.1,777.2C1023.8,772.3,1067.5,767.1,1100.2,760.3S1176.5,748,1209.3,731.7S1285.6,667.8,1318.4,651.4S1394.7,633.2,1427.5,622.3S1503.8,583.2,1536.5,578.8S1612.9,586.1,1645.6,592.9S1722,609.5,1754.7,623.6S1831.1,669.5,1863.8,687.2S1940.2,730.8,1972.9,741.9Q1994.7,749.3,2082,761.3" stroke="#333" stroke-width="2" fill="none"/></g>
<g opacity="0.808"><path d="M872.0,850.0V786.9M2072.0,748.8V850.0" stroke="#666" stroke-width="2" fill="none"/><path d="M872,786.9Q959.3,805.9,981.1,801.6C1013.8,795,1057.5,756.9,1090.2,743.2S1166.5,721.6,1199.3,710.6S1275.6,680.1,1308.4,669.5S1384.7,649.8,1417.5,640.4S1493.8,612.7,1526.5,606.3S1602.9,592.4,1635.6,598.3S1712,633.5,1744.7,645.2S1821.1,662.8,1853.8,676.2S1930.2,723.3,1962.9,734.2Q1984.7,741.4,2072,748.8" stroke="#333" stroke-width="2" fill="none"/></g>
<g opacity="0.814"><path d="M862.0,859.0V809.1M2062.0,811.1V859.0" stroke="#666" stroke-width="2" fill="none"/><path d="M862,809.1Q949.3,777.1,971.1,770.9C1003.8,761.6,1047.5,755,1080.2,747.1S1156.5,729.1,1189.3,717.9S1265.6,684.3,1298.4,672.7S1374.7,649.8,1407.5,641S1483.8,617.9,1516.5,614.4S1592.9,611.4,1625.6,617.8S1702,643.9,1734.7,656.7S1811.1,685.4,1843.8,703.5S1920.2,761.6,1952.9,777.7Q1974.7,788.5,2062,811.1" stroke="#333" stroke-width="2" fill="none"/></g>
<g opacity="0.819"><path d="M852.0,868.0V822.1M2052.0,811.9V868.0" stroke="#666" stroke-width="2" fill="none"/><path d="M852,822.1Q939.3,810.1,961.1,805.7C993.8,799.1,1037.5,786.6,1070.2,778.4S1146.5,760.1,1179.3,750.8S1255.6,726.1,1288.4,716.2S1364.7,695.2,1397.5,684.8S1473.8,656,1506.5,646.5S1582.9,619.9,1615.6,621.2S1692,637.5,1724.7,655S1801.1,717.3,1833.8,737.4S1910.2,777.9,1942.9,789.1Q1964.7,796.6,2052,811.9" stroke="#333" stroke-width="2" fill="none"/></g>
<g opacity="0.825"><path d="M842.0,877.0V795.5M2042.0,825.7V877.0" stroke="#666" stroke-width="2" fill="none"/><path d="M842,795.5Q929.3,832.4,951.1,831.1C983.8,829,1027.5,791.3,1060.2,781.9S1136.5,780.1,1169.3,768.7S1245.6,723.3,1278.4,705.9S1354.7,666.4,1387.5,653S1463.8,618.7,1496.5,616.7S1572.9,631.7,1605.6,639.3S1682,653.8,1714.7,666.9S1791.1,707.2,1823.8,726.6S1900.2,781.4,1932.9,796.2Q1954.7,806.1,2042,825.7" stroke="#333" stroke-width="2" fill="none"/></g>
<g opacity="0.830"><path d="M832.0,886.0V831.1M2032.0,839.2V886.0" stroke="#666" stroke-width="2" fill="none"/><path d="M832,831.1Q919.3,834,941.1,831.8C973.8,828.6,1017.5,818.8,1050.2,809.3S1126.5,782.6,1159.3,768.7S1235.6,733.8,1268.4,716.1S1344.7,666,1377.5,650.9S1453.8,616.6,1486.5,615.4S1562.9,633.5,1595.6,643.1S1672,664.8,1704.7,679.2S1781.1,721.1,1813.8,739.4S1890.2,786.3,1922.9,801.2Q1944.7,811.2,2032,839.2" stroke="#333" stroke-width="2" fill="none"/></g>
<g opacity="0.835"><path d="M822.0,895.0V843.6M2022.0,845.4V895.0" stroke="#666" stroke-width="2" fill="none"/><path d="M822,843.6Q909.3,851.3,931.1,849.1C963.8,845.7,1007.5,832.1,1040.2,820.9S1116.5,793.9,1149.3,774.4S1225.6,711.9,1258.4,691.1S1334.7,644.5,1367.5,635.7S1443.8,632.3,1476.5,632.2S1552.9,629,1585.6,635.3S1662,660,1694.7,674.1S1771.1,710,1803.8,729.5S1880.2,786.5,1912.9,803.8Q1934.7,815.4,2022,845.4" stroke="#333" stroke-width="2" fill="none"/></g>
<g opacity="0.840"><path d="M812.0,904.0V860.6M2012.0,820.8V904.0" stroke="#666" stroke-width="2" fill="none"/><path d="M812,860.6Q899.3,858.4,921.1,852.9C953.8,844.7,997.5,820.2,1030.2,805.9S1106.5,771.4,1139.3,757.6S1215.6,724.2,1248.4,713.7S1324.7,695.2,1357.5,687.3S1433.8,666.2,1466.5,660.8S1542.9,646.8,1575.6,651.6S1652,677.1,1684.7,693.4S1761.1,742.9,1793.8,760.2S1870.2,799.4,1902.9,808.5Q1924.7,814.6,2012,820.8" stroke="#333" stroke-width="2" fill="none"/></g>
<g opacity="0.845"><path d="M802.0,913.0V869.6M2002.0,823.3V913.0" stroke="#666" stroke-width="2" fill="none"/><path d="M802,869.6Q889.3,870.1,911.1,866.6C943.8,861.4,987.5,845,1020.2,834.9S1096.5,813.2,1129.3,799.2S1205.6,756.2,1238.4,741.6S1314.7,711.7,1347.5,701.5S1423.8,678.3,1456.5,673.2S1532.9,661.5,1565.6,667.5S1642,704.8,1674.7,713.5S1751.1,712.9,1783.8,725.9S1860.2,785.2,1892.9,799.8Q1914.7,809.6,2002,823.3" stroke="#333" stroke-width="2" fill="none"/></g>
<g opacity="0.850"><path d="M792.0,922.0V872.2M1992.0,857.4V922.0" stroke="#666" stroke-width="2" fill="none"/><path d="M792,872.2Q879.3,882.9,901.1,878.6C933.8,872,977.5,840.8,1010.2,828.7S1086.5,809.3,1119.3,797.5S1195.6,763.7,1228.4,750.4S1304.7,718.9,1337.5,709S1413.8,689.1,1446.5,684.6S1522.9,676,1555.6,679.4S1632,694,1664.7,706.9S1741.1,747.3,1773.8,765.7S1850.2,815.7,1882.9,829.5Q1904.7,838.6,1992,857.4" stroke="#333" stroke-width="2" fill="none"/></g>
<g opacity="0.855"><path d="M782.0,931.0V887.6M1982.0,868.0V931.0" stroke="#666" stroke-width="2" fill="none"/><path d="M782,887.6Q869.3,884.1,891.1,877.7C923.8,868.1,967.5,837.6,1000.2,823.7S1076.5,795.4,1109.3,785.2S1185.6,768.3,1218.4,755.8S1294.7,715.6,1327.5,701.9S1403.8,668.6,1436.5,664.6S1512.9,664,1545.6,675.2S1622,722,1654.7,738.9S1731.1,772.7,1763.8,788.2S1840.2,830.6,1872.9,842.5Q1894.7,850.5,1982,868" stroke="#333" stroke-width="2" fill="none"/></g>
<g opacity="0.860"><path d="M772.0,940.0V897.1M1972.0,896.7V940.0" stroke="#666" stroke-width="2" fill="none"/><path d="M772,897.1Q859.3,882.6,881.1,878.6C913.8,872.5,957.5,866.2,990.2,856.8S1066.5,829.7,1099.3,815.5S1175.6,778.4,1208.4,761.8S1284.7,719.4,1317.5,704.3S1393.8,662.4,1426.5,661.2S1502.9,688.7,1535.6,696.4S1612,702,1644.7,712.8S1721.1,746.5,1753.8,768.3S1830.2,838.7,1862.9,858Q1884.7,870.8,1972,896.7" stroke="#333" stroke-width="2" fill="none"/></g>
<g opacity="0.865"><path d="M762.0,949.0V906.1M1962.0,855.8V949.0" stroke="#666" stroke-width="2" fill="none"/><path d="M762,906.1Q849.3,898.2,871.1,893.2C903.8,885.6,947.5,866,980.2,855.6S1056.5,834.1,1089.3,824.1S1165.6,801.9,1198.4,788.7S1274.7,748,1307.5,736S1383.8,714.3,1416.5,708.7S1492.9,693.3,1525.6,698.2S1602,725.4,1634.7,741.5S1711.1,790.2,1743.8,805.6S1820.2,836.1,1852.9,843.7Q1874.7,848.7,1962,855.8" stroke="#333" stroke-width="2" fill="none"/></g>
<g opacity="0.870"><path d="M752.0,958.0V909.9M1952.0,880.3V958.0" stroke="#666" stroke-width="2" fill="none"/><path d="M752,909.9Q839.3,916.3,861.1,915.1C893.8,913.2,937.5,906.8,970.2,897.7S1046.5,873.7,1079.3,854.5S1155.6,790.1,1188.4,769.9S1264.7,732.3,1297.5,720S1373.8,692.8,1406.5,687.8S1482.9,680.8,1515.6,686.5S1592,713.6,1624.7,726S1701.1,749.7,1733.8,768.7S1810.2,835.7,1842.9,852.5Q1864.7,863.6,1952,880.3" stroke="#333" stroke-width="2" fill="none"/></g>
<g opacity="0.874"><path d="M742.0,967.0V924.1M1942.0,915.6V967.0" stroke="#666" stroke-width="2" fill="none"/><path d="M742,924.1Q829.3,922.4,851.1,918.4C883.8,912.3,927.5,895,960.2,883.6S1036.5,860,1069.3,842.7S1145.6,782.9,1178.4,767.9S1254.7,750.4,1287.5,742.8S1363.8,723.5,1396.5,717.5S1472.9,698.4,1505.6,703S1582,736.2,1614.7,747.9S1691.1,761.7,1723.8,781S1800.2,855.9,1832.9,876.1Q1854.7,889.6,1942,915.6" stroke="#333" stroke-width="2" fill="none"/></g>
<g opacity="0.879"><path d="M732.0,976.0V936.8M1932.0,921.6V976.0" stroke="#666" stroke-width="2" fill="none"/><path d="M732,936.8Q819.3,926.7,841.1,923.3C873.8,918.2,917.5,909.9,950.2,902.5S1026.5,887.6,1059.3,873.9S1135.6,828.4,1168.4,811S1244.7,768.7,1277.5,758.2S1353.8,742.5,1386.5,741.3S1462.9,744.9,1495.6,749.6S1572,764.3,1604.7,772.8S1681.1,790.1,1713.8,806.7S1790.2,866.1,1822.9,883.3Q1844.7,894.8,1932,921.6" stroke="#333" stroke-width="2" fill="none"/></g>
<g opacity="0.883"><path d="M722.0,985.0V918.9M1922.0,895.2V985.0" stroke="#666" stroke-width="2" fill="none"/><path d="M722,918.9Q809.3,947.3,831.1,945.8C863.8,943.4,907.5,920.1,940.2,903.4S1016.5,850,1049.3,834.6S1125.6,811.4,1158.4,800.9S1234.7,774,1267.5,765.2S1343.8,744,1376.5,742.4S1452.9,747.2,1485.6,754.4S1562,777.6,1594.7,790.2S1671.1,826,1703.8,838.4S1780.2,863.8,1812.9,872.3Q1834.7,878,1922,895.2" stroke="#333" stroke-width="2" fill="none"/></g>
<g opacity="0.888"><path d="M712.0,994.0V956.1M1912.0,936.1V994.0" stroke="#666" stroke-width="2" fill="none"/><path d="M712,956.1Q799.3,949.1,821.1,947.6C853.8,945.2,897.5,950.4,930.2,940.5S1006.5,897.1,1039.3,881.6S1115.6,852.1,1148.4,837S1224.7,793.9,1257.5,781.1S1333.8,755.1,1366.5,751.6S1442.9,754,1475.6,757.5S1552,766.3,1584.7,774.9S1661.1,796,1693.8,814.8S1770.2,882,1802.9,900.2Q1824.7,912.3,1912,936.1" stroke="#333" stroke-width="2" fill="none"/></g>
<g opacity="0.892"><path d="M702.0,1003.0V965.1M1902.0,924.7V1003.0" stroke="#666" stroke-width="2" fill="none"/><path d="M702,965.1Q789.3,960.5,811.1,954.3C843.8,944.9,887.5,915,920.2,902.9S996.5,884.8,1029.3,873.4S1105.6,844.4,1138.4,826.5S1214.7,767.9,1247.5,754.1S1323.8,732.6,1356.5,734.4S1432.9,757.8,1465.6,766.1S1542,776.6,1574.7,789.7S1651.1,838,1683.8,853.9S1760.2,884.9,1792.9,895.5Q1814.7,902.6,1902,924.7" stroke="#333" stroke-width="2" fill="none"/></g>
<g opacity="0.897"><path d="M692.0,1012.0V975.3M1892.0,944.2V1012.0" stroke="#666" stroke-width="2" fill="none"/><path d="M692,975.3Q779.3,962.1,801.1,956.8C833.8,948.9,877.5,932.9,910.2,922.4S986.5,899.6,1019.3,886.8S1095.6,853.9,1128.4,836.8S1204.7,783.7,1237.5,772.6S1313.8,762.8,1346.5,762.5S1422.9,761.9,1455.6,770.9S1532,806.7,1564.7,822.4S1641.1,860.5,1673.8,875.9S1750.2,914.4,1782.9,924.7Q1804.7,931.5,1892,944.2" stroke="#333" stroke-width="2" fill="none"/></g>
<g opacity="0.901"><path d="M682.0,1021.0V949.9M1882.0,984.3V1021.0" stroke="#666" stroke-width="2" fill="none"/><path d="M682,949.9Q769.3,935.9,791.1,935.1C823.8,933.7,867.5,946.4,900.2,941S976.5,913,1009.3,899.2S1085.6,863.9,1118.4,849S1194.7,811,1227.5,800.1S1303.8,776.5,1336.5,776.3S1412.9,792.9,1445.6,798.6S1522,806.6,1554.7,814.2S1631.1,830.2,1663.8,849.3S1740.2,921.3,1772.9,941.5Q1794.7,955,1882,984.3" stroke="#333" stroke-width="2" fill="none"/></g>
<g opacity="0.905"><path d="M672.0,1030.0V993.8M1872.0,944.2V1030.0" stroke="#666" stroke-width="2" fill="none"/><path d="M672,993.8Q759.3,979.3,781.1,973.8C813.8,965.7,857.5,952.7,890.2,939.3S966.5,894.2,999.3,884.1S1075.6,882.9,1108.4,871.9S1184.7,824.8,1217.5,811.3S1293.8,790.3,1326.5,781.8S1402.9,752.5,1435.6,754S1512,773.7,1544.7,791.7S1621.1,854,1653.8,873.7S1730.2,912.3,1762.9,922.8Q1784.7,929.9,1872,944.2" stroke="#333" stroke-width="2" fill="none"/></g>
<g opacity="0.909"><path d="M662.0,1039.0V962.7M1862.0,1003.9V1039.0" stroke="#666" stroke-width="2" fill="none"/><path d="M662,962.7Q749.3,968.7,771.1,969.7C803.8,971.2,847.5,979.7,880.2,972.6S956.5,938.2,989.3,922.3S1065.6,883.2,1098.4,866.8S1174.7,825.8,1207.5,813S1283.8,785.4,1316.5,781S1392.9,776.1,1425.6,784.1S1502,818.6,1534.7,834.1S1611.1,868.1,1643.8,888S1720.2,949.2,1752.9,966.6Q1774.7,978.2,1862,1003.9" stroke="#333" stroke-width="2" fill="none"/></g>
<g opacity="0.913"><path d="M652.0,1048.0V982.2M1852.0,1012.9V1048.0" stroke="#666" stroke-width="2" fill="none"/><path d="M652,982.2Q739.3,981.7,761.1,980.3C793.8,978.2,837.5,974.2,870.2,968S946.5,953.4,979.3,938.9S1055.6,890.2,1088.4,871.8S1164.7,828.9,1197.5,816.3S1273.8,789.9,1306.5,788.3S1382.9,795.1,1415.6,805.7S1492,845.5,1524.7,859S1601.1,878.6,1633.8,895.7S1710.2,955.7,1742.9,973.3Q1764.7,985.1,1852,1012.9" stroke="#333" stroke-width="2" fill="none"/></g>
<g opacity="0.917"><path d="M642.0,1057.0V1010.9M1842.0,1021.9V1057.0" stroke="#666" stroke-width="2" fill="none"/><path d="M642,1010.9Q729.3,969.5,751.1,963.4C783.8,954.1,827.5,961.2,860.2,949.1S936.5,897.5,969.3,882.6S1045.6,859.5,1078.4,850.1S1154.7,828.2,1187.5,819.7S1263.8,799.3,1296.5,793.5S1372.9,775.6,1405.6,781S1482,814.8,1514.7,829.4S1591.1,856.9,1623.8,878.7S1700.2,952.8,1732.9,974.3Q1754.7,988.6,1842,1021.9" stroke="#333" stroke-width="2" fill="none"/></g>
<g opacity="0.921"><path d="M632.0,1066.0V961.5M1832.0,1032.6V1066.0" stroke="#666" stroke-width="2" fill="none"/><path d="M632,961.5Q719.3,993.5,741.1,996.5C773.8,1001,817.5,1000.4,850.2,991.4S926.5,949.9,959.3,936.3S1035.6,914.6,1068.4,900.5S1144.7,854.8,1177.5,842.6S1253.8,822.8,1286.5,819.6S1362.9,812.8,1395.6,820.9S1472,860.4,1504.7,873.5S1581.1,890.2,1613.8,908.2S1690.2,974.5,1722.9,993.2Q1744.7,1005.6,1832,1032.6" stroke="#333" stroke-width="2" fill="none"/></g>
<g opacity="0.924"><path d="M622.0,1075.0V1010.9M1822.0,1033.4V1075.0" stroke="#666" stroke-width="2" fill="none"/><path d="M622,1010.9Q709.3,1044.7,731.1,1041.6C763.8,1037,807.5,992.8,840.2,980.1S916.5,968.3,949.3,957.2S1025.6,920.2,1058.4,906S1134.7,875.9,1167.5,862.9S1243.8,824.1,1276.5,819.3S1352.9,824.1,1385.6,830.7S1462,852.1,1494.7,863.8S1571.1,890.2,1603.8,908.7S1680.2,968.1,1712.9,986.8Q1734.7,999.3,1822,1033.4" stroke="#333" stroke-width="2" fill="none"/></g>
<g opacity="0.928"><path d="M612.0,1084.0V1024.5M1812.0,1047.3V1084.0" stroke="#666" stroke-width="2" fill="none"/><path d="M612,1024.5Q699.3,1054.3,721.1,1050.6C753.8,1045.1,797.5,1001.9,830.2,988S906.5,968.4,939.3,957.8S1015.6,929.7,1048.4,917.2S1124.7,888.3,1157.5,874.5S1233.8,834.2,1266.5,825.2S1342.9,811.2,1375.6,814.7S1452,836.3,1484.7,848.3S1561.1,872.2,1593.8,894.5S1670.2,973.7,1702.9,996.7Q1724.7,1011.9,1812,1047.3" stroke="#333" stroke-width="2" fill="none"/></g>
<g opacity="0.931"><path d="M602.0,1093.0V1061.4M1802.0,1007.0V1093.0" stroke="#666" stroke-width="2" fill="none"/><path d="M602,1061.4Q689.3,1036.6,711.1,1030.1C743.8,1020.3,787.5,1002.9,820.2,996S896.5,993.5,929.3,984.5S1005.6,952.5,1038.4,936.5S1114.7,892.9,1147.5,878.2S1223.8,846.3,1256.5,838.4S1332.9,822,1365.6,825.9S1442,849.5,1474.7,864.2S1551.1,905.4,1583.8,923.5S1660.2,972.4,1692.9,985Q1714.7,993.3,1802,1007" stroke="#333" stroke-width="2" fill="none"/></g>
<g opacity="0.935"><path d="M592.0,1102.0V1058.6M1792.0,1027.5V1102.0" stroke="#666" stroke-width="2" fill="none"/><path d="M592,1058.6Q679.3,1073.7,701.1,1070.4C733.8,1065.5,777.5,1038.7,810.2,1025.8S886.5,997.1,919.3,984.6S995.6,956.4,1028.4,942.1S1104.7,906.7,1137.5,889.5S1213.8,834,1246.5,827.7S1322.9,839.1,1355.6,847.9S1432,875.1,1464.7,886.3S1541.1,906.2,1573.8,922.5S1650.2,979.5,1682.9,995.2Q1704.7,1005.7,1792,1027.5" stroke="#333" stroke-width="2" fill="none"/></g>
<g opacity="0.938"><path d="M582.0,1111.0V1080.3M1782.0,1079.8V1111.0" stroke="#666" stroke-width="2" fill="none"/><path d="M582,1080.3Q669.3,1074.5,691.1,1070.6C723.8,1064.7,767.5,1050.6,800.2,1040.8S876.5,1018.9,909.3,1005.2S985.6,965.6,1018.4,949.3S1094.7,909.5,1127.5,896.8S1203.8,872,1236.5,864.9S1312.9,845.7,1345.6,849.9S1422,875.6,1454.7,893S1531.1,944.7,1563.8,965.9S1640.2,1017.2,1672.9,1034.3Q1694.7,1045.7,1782,1079.8" stroke="#333" stroke-width="2" fill="none"/></g>
<g opacity="0.942"><path d="M572.0,1120.0V1078.2M1772.0,1027.5V1120.0" stroke="#666" stroke-width="2" fill="none"/><path d="M572,1078.2Q659.3,1092.3,681.1,1089.3C713.8,1084.8,757.5,1061,790.2,1048.3S866.5,1021,899.3,1004.8S975.6,958.7,1008.4,940.1S1084.7,889.4,1117.5,880.2S1193.8,880.1,1226.5,878.5S1302.9,869.2,1335.6,869.9S1412,875.5,1444.7,883.8S1521.1,907.2,1553.8,925.4S1630.2,989.4,1662.9,1004.7Q1684.7,1014.9,1772,1027.5" stroke="#333" stroke-width="2" fill="none"/></g>
<g opacity="0.945"><path d="M562.0,1129.0V1084.7M1762.0,1100.3V1129.0" stroke="#666" stroke-width="2" fill="none"/><path d="M562,1084.7Q649.3,1095.8,671.1,1091.5C703.8,1085.1,747.5,1054.6,780.2,1042S856.5,1020.9,889.3,1007.3S965.6,966.4,998.4,951.1S1074.7,917.1,1107.5,905.3S1183.8,879,1216.5,872.5S1292.9,856.3,1325.6,861.9S1402,898.1,1434.7,910S1511.1,919.4,1543.8,941S1620.2,1030.6,1652.9,1054.5Q1674.7,1070.4,1762,1100.3" stroke="#333" stroke-width="2" fill="none"/></g>
<g opacity="0.948"><path d="M552.0,1138.0V1066.9M1752.0,1074.9V1138.0" stroke="#666" stroke-width="2" fill="none"/><path d="M552,1066.9Q639.3,1110.9,661.1,1109.3C693.8,1106.9,737.5,1064.5,770.2,1050.9S846.5,1029.7,879.3,1018.4S955.6,992.9,988.4,975.8S1064.7,919.9,1097.5,904.5S1173.8,877.9,1206.5,873.6S1282.9,867,1315.6,876.2S1392,918.5,1424.7,934.8S1501.1,968.9,1533.8,985.1S1610.2,1029.1,1642.9,1042.6Q1664.7,1051.5,1752,1074.9" stroke="#333" stroke-width="2" fill="none"/></g>
<g opacity="0.951"><path d="M542.0,1147.0V1117.4M1742.0,1069.2V1147.0" stroke="#666" stroke-width="2" fill="none"/><path d="M542,1117.4Q629.3,1121.8,651.1,1114.9C683.8,1104.5,727.5,1063.7,760.2,1047.9S836.5,1020.5,869.3,1009.2S945.6,987.3,978.4,972.9S1054.7,927.3,1087.5,913.5S1163.8,880.9,1196.5,880.4S1272.9,900.3,1305.6,909.9S1382,931.2,1414.7,944S1491.1,979.8,1523.8,995.3S1600.2,1036.1,1632.9,1047.2Q1654.7,1054.6,1742,1069.2" stroke="#333" stroke-width="2" fill="none"/></g>
<g opacity="0.954"><path d="M532.0,1156.0V1106.7M1732.0,1094.5V1156.0" stroke="#666" stroke-width="2" fill="none"/><path d="M532,1106.7Q619.3,1127.8,641.1,1127.3C673.8,1126.4,717.5,1112,750.2,1101.2S826.5,1069.3,859.3,1055.3S935.6,1025,968.4,1007.9S1044.7,960.7,1077.5,941.8S1153.8,894.1,1186.5,881.8S1262.9,854,1295.6,860S1372,900.6,1404.7,922.1S1481.1,981.8,1513.8,1003.6S1590.2,1054,1622.9,1067.6Q1644.7,1076.7,1732,1094.5" stroke="#333" stroke-width="2" fill="none"/></g>
<g opacity="0.957"><path d="M522.0,1165.0V1137.3M1722.0,1121.6V1165.0" stroke="#666" stroke-width="2" fill="none"/><path d="M522,1137.3Q609.3,1106.8,631.1,1103.3C663.8,1098,707.5,1107.6,740.2,1102.1S816.5,1080,849.3,1066.9S925.6,1033.2,958.4,1014.9S1034.7,962.7,1067.5,945S1143.8,900.7,1176.5,897.2S1252.9,915.6,1285.6,922.3S1362,929.8,1394.7,941.7S1471.1,979.8,1503.8,1001.2S1580.2,1066.7,1612.9,1084.8Q1634.7,1096.8,1722,1121.6" stroke="#333" stroke-width="2" fill="none"/></g>
<g opacity="0.960"><path d="M512.0,1174.0V1115.9M1712.0,1146.1V1174.0" stroke="#666" stroke-width="2" fill="none"/><path d="M512,1115.9Q599.3,1120.2,621.1,1119.4C653.8,1118.3,697.5,1115.8,730.2,1108.6S806.5,1084.3,839.3,1071.5S915.6,1037.4,948.4,1023.5S1024.7,994.3,1057.5,979.4S1133.8,933.1,1166.5,924.4S1242.9,916,1275.6,921.4S1352,949.7,1384.7,960.2S1461.1,970.1,1493.8,991.1S1570.2,1077.1,1602.9,1100.3Q1624.7,1115.8,1712,1146.1" stroke="#333" stroke-width="2" fill="none"/></g>
<g opacity="0.963"><path d="M502.0,1183.0V1120.0M1702.0,1158.5V1183.0" stroke="#666" stroke-width="2" fill="none"/><path d="M502,1120Q589.3,1149.9,611.1,1149.9C643.8,1149.8,687.5,1130.8,720.2,1119.4S796.5,1088.5,829.3,1074.1S905.6,1039.6,938.4,1023.5S1014.7,982.4,1047.5,966.9S1123.8,925.8,1156.5,919.7S1232.9,919.4,1265.6,926.4S1342,951.1,1374.7,966.1S1451.1,1004.7,1483.8,1026.9S1560.2,1094.1,1592.9,1113.8Q1614.7,1127,1702,1158.5" stroke="#333" stroke-width="2" fill="none"/></g>
<g opacity="0.965"><path d="M492.0,1192.0V1154.8M1692.0,1137.9V1192.0" stroke="#666" stroke-width="2" fill="none"/><path d="M492,1154.8Q579.3,1172.3,601.1,1167.5C633.8,1160.2,677.5,1120.4,710.2,1106.4S786.5,1087,819.3,1073.8S895.6,1034.4,928.4,1018.3S1004.7,977.2,1037.5,966.5S1113.8,948,1146.5,946.5S1222.9,948.7,1255.6,956S1332,979.8,1364.7,994.8S1441.1,1039.2,1473.8,1055.7S1550.2,1092.3,1582.9,1104.6Q1604.7,1112.8,1692,1137.9" stroke="#333" stroke-width="2" fill="none"/></g>
<g opacity="0.968"><path d="M482.0,1201.0V1158.1M1682.0,1128.0V1201.0" stroke="#666" stroke-width="2" fill="none"/><path d="M482,1158.1Q569.3,1180.7,591.1,1176.5C623.8,1170.1,667.5,1130.7,700.2,1115.9S776.5,1090.9,809.3,1078.1S885.6,1043.3,918.4,1030.7S994.7,1003.8,1027.5,994S1103.8,973.7,1136.5,965.6S1212.9,938.6,1245.6,939.9S1322,961.1,1354.7,974.4S1431.1,1009.8,1463.8,1028.8S1540.2,1086.3,1572.9,1101.2Q1594.7,1111.1,1682,1128" stroke="#333" stroke-width="2" fill="none"/></g>
<g opacity="0.970"><path d="M472.0,1210.0V1135.5M1672.0,1187.0V1210.0" stroke="#666" stroke-width="2" fill="none"/><path d="M472,1135.5Q559.3,1155.4,581.1,1154.3C613.8,1152.7,657.5,1135.6,690.2,1124.7S766.5,1097.5,799.3,1082.1S875.6,1036,908.4,1022S984.7,1002.5,1017.5,988.4S1093.8,937.1,1126.5,927.8S1202.9,917.8,1235.6,926.1S1312,968.3,1344.7,982.9S1421.1,1000.1,1453.8,1023.1S1530.2,1111.1,1562.9,1135.7Q1584.7,1152.1,1672,1187" stroke="#333" stroke-width="2" fill="none"/></g>
<g opacity="0.973"><path d="M462.0,1219.0V1129.3M1662.0,1134.7V1219.0" stroke="#666" stroke-width="2" fill="none"/><path d="M462,1129.3Q549.3,1194.9,571.1,1196C603.8,1197.6,647.5,1156.3,680.2,1140.1S756.5,1104.4,789.3,1087.9S865.6,1047.3,898.4,1030.6S974.7,991.8,1007.5,976.7S1083.8,934.8,1116.5,930.1S1192.9,929.2,1225.6,945.1S1302,1016.1,1334.7,1036.2S1411.1,1067.4,1443.8,1079.2S1520.2,1106.6,1552.9,1114.9Q1574.7,1120.5,1662,1134.7" stroke="#333" stroke-width="2" fill="none"/></g>
<g opacity="0.975"><path d="M452.0,1228.0V1189.1M1652.0,1158.4V1228.0" stroke="#666" stroke-width="2" fill="none"/><path d="M452,1189.1Q539.3,1208.7,561.1,1205C593.8,1199.4,637.5,1165.6,670.2,1152.1S746.5,1130.6,779.3,1114.5S855.6,1062.3,888.4,1044.5S964.7,1009.2,997.5,996S1073.8,962.1,1106.5,956.4S1182.9,947.7,1215.6,958.2S1292,1010.5,1324.7,1026.3S1401.1,1047.6,1433.8,1063.8S1510.2,1119.7,1542.9,1133.9Q1564.7,1143.4,1652,1158.4" stroke="#333" stroke-width="2" fill="none"/></g>
<g opacity="0.977"><path d="M442.0,1237.0V1179.2M1642.0,1193.6V1237.0" stroke="#666" stroke-width="2" fill="none"/><path d="M442,1179.2Q529.3,1213.2,551.1,1214C583.8,1215,627.5,1199.3,660.2,1186.3S736.5,1144.7,769.3,1127S845.6,1084.1,878.4,1068.3S954.7,1036.8,987.5,1022.2S1063.8,977.5,1096.5,970.8S1172.9,971.5,1205.6,977.4S1282,999.9,1314.7,1010.6S1391.1,1027.3,1423.8,1048.8S1500.2,1132.4,1532.9,1154.1Q1554.7,1168.6,1642,1193.6" stroke="#333" stroke-width="2" fill="none"/></g>
<g opacity="0.979"><path d="M432.0,1246.0V1227.6M1632.0,1212.4V1246.0" stroke="#666" stroke-width="2" fill="none"/><path d="M432,1227.6Q519.3,1220,541.1,1217.7C573.8,1214.2,617.5,1217.3,650.2,1204.4S726.5,1153.7,759.3,1132.2S835.6,1079.6,868.4,1060.9S944.7,1021.7,977.5,1007.5S1053.8,970.7,1086.5,966.3S1162.9,968.6,1195.6,978.1S1272,1014.7,1304.7,1030.1S1381.1,1059.7,1413.8,1080.8S1490.2,1151.3,1522.9,1171.1Q1544.7,1184.2,1632,1212.4" stroke="#333" stroke-width="2" fill="none"/></g>
<g opacity="0.981"><path d="M422.0,1255.0V1240.6M1622.0,1174.5V1255.0" stroke="#666" stroke-width="2" fill="none"/><path d="M422,1240.6Q509.3,1231.4,531.1,1226.7C563.8,1219.8,607.5,1205.3,640.2,1194.4S716.5,1167.9,749.3,1153.8S825.6,1119.3,858.4,1100.5S934.7,1045.2,967.5,1028.7S1043.8,999.3,1076.5,991S1152.9,967.9,1185.6,973.1S1262,1008.6,1294.7,1025.2S1371.1,1063.9,1403.8,1083.3S1480.2,1141,1512.9,1154.7Q1534.7,1163.8,1622,1174.5" stroke="#333" stroke-width="2" fill="none"/></g>
<g opacity="0.983"><path d="M412.0,1264.0V1200.5M1612.0,1252.3V1264.0" stroke="#666" stroke-width="2" fill="none"/><path d="M412,1200.5Q499.3,1229.8,521.1,1227.9C553.8,1225.2,597.5,1191.7,630.2,1182.1S706.5,1174.5,739.3,1164.1S815.6,1131.3,848.4,1112.7S924.7,1058.3,957.5,1039.8S1033.8,992.7,1066.5,989.3S1142.9,1005.1,1175.6,1016.8S1252,1054.7,1284.7,1067.3S1361.1,1081.6,1393.8,1101S1470.2,1173.4,1502.9,1196.1Q1524.7,1211.2,1612,1252.3" stroke="#333" stroke-width="2" fill="none"/></g>
<g opacity="0.985"><path d="M402.0,1273.0V1261.8M1602.0,1191.7V1273.0" stroke="#666" stroke-width="2" fill="none"/><path d="M402,1261.8Q489.3,1215.8,511.1,1208.1C543.8,1196.5,587.5,1191.2,620.2,1184.6S696.5,1176.3,729.3,1164.3S805.6,1118.7,838.4,1104.7S914.7,1088.4,947.5,1071.1S1023.8,1000.9,1056.5,989S1132.9,984.8,1165.6,991.9S1242,1020.4,1274.7,1036.2S1351.1,1076,1383.8,1097.1S1460.2,1162.9,1492.9,1177.1Q1514.7,1186.5,1602,1191.7" stroke="#333" stroke-width="2" fill="none"/></g>
<g opacity="0.987"><path d="M392.0,1282.0V1275.3M1592.0,1195.8V1282.0" stroke="#666" stroke-width="2" fill="none"/><path d="M392,1275.3Q479.3,1225.7,501.1,1215.7C533.8,1200.7,577.5,1185.4,610.2,1175.4S686.5,1159.4,719.3,1149.3S795.6,1119.4,828.4,1107.9S904.7,1083.6,937.5,1072.7S1013.8,1041,1046.5,1035S1122.9,1031.5,1155.6,1032.7S1232,1032.9,1264.7,1042.8S1341.1,1078.7,1373.8,1098.6S1450.2,1160.6,1482.9,1175.2Q1504.7,1184.9,1592,1195.8" stroke="#333" stroke-width="2" fill="none"/></g>
<g opacity="0.988"><path d="M382.0,1291.0V1273.3M1582.0,1212.2V1291.0" stroke="#666" stroke-width="2" fill="none"/><path d="M382,1273.3Q469.3,1291,491.1,1284.3C523.8,1274.3,567.5,1224.2,600.2,1206.3S676.5,1178.1,709.3,1165S785.6,1133.6,818.4,1119S894.7,1080.8,927.5,1067.7S1003.8,1038.2,1036.5,1032.1S1112.9,1020.6,1145.6,1026.9S1222,1058.9,1254.7,1074.3S1331.1,1111.5,1363.8,1129.7S1440.2,1183.2,1472.9,1195.5Q1494.7,1203.8,1582,1212.2" stroke="#333" stroke-width="2" fill="none"/></g>
<g opacity="0.990"><path d="M372.0,1300.0V1270.8M1572.0,1224.5V1300.0" stroke="#666" stroke-width="2" fill="none"/><path d="M372,1270.8Q459.3,1298.9,481.1,1293.3C513.8,1285,557.5,1235.1,590.2,1215S666.5,1174.9,699.3,1158.9S775.6,1122.9,808.4,1108.7S884.7,1071.1,917.5,1064.1S993.8,1061.1,1026.5,1061.5S1102.9,1061.1,1135.6,1066.9S1212,1086.8,1244.7,1099.9S1321.1,1139.3,1353.8,1154.3S1430.2,1189.4,1462.9,1199.9Q1484.7,1207,1572,1224.5" stroke="#333" stroke-width="2" fill="none"/></g>
<g opacity="0.991"><path d="M362.0,1309.0V1293.0M1562.0,1212.5V1309.0" stroke="#666" stroke-width="2" fill="none"/><path d="M362,1293Q449.3,1307,471.1,1302.3C503.8,1295.3,547.5,1262.6,580.2,1245.8S656.5,1211.4,689.3,1191S765.6,1128.7,798.4,1109.8S874.7,1075.5,907.5,1065.2S983.8,1046.5,1016.5,1041.4S1092.9,1025.4,1125.6,1031.4S1202,1069.3,1234.7,1081.2S1311.1,1094.1,1343.8,1110.9S1420.2,1177.7,1452.9,1192.9Q1474.7,1203.1,1562,1212.5" stroke="#333" stroke-width="2" fill="none"/></g>
<g opacity="0.993"><path d="M352.0,1318.0V1254.5M1552.0,1318.0V1318.0" stroke="#666" stroke-width="2" fill="none"/><path d="M352,1254.5Q439.3,1252.6,461.1,1249.4C493.8,1244.8,537.5,1235,570.2,1223.3S646.5,1183.5,679.3,1171.3S755.6,1153.7,788.4,1142.1S864.7,1106.8,897.5,1093.9S973.8,1060.1,1006.5,1055.8S1082.9,1054.1,1115.6,1064.9S1192,1113.4,1224.7,1127.7S1301.1,1141.9,1333.8,1160.4S1410.2,1227.1,1442.9,1250.8Q1464.7,1266.5,1552,1318" stroke="#333" stroke-width="2" fill="none"/></g>
<g opacity="0.994"><path d="M342.0,1327.0V1253.5M1542.0,1280.2V1327.0" stroke="#666" stroke-width="2" fill="none"/><path d="M342,1253.5Q429.3,1330.2,451.1,1327C483.8,1322.1,527.5,1241.3,560.2,1221S636.5,1205.4,669.3,1191.9S745.6,1144.9,778.4,1131.1S854.7,1110.9,887.5,1100.4S963.8,1068.1,996.5,1061.5S1072.9,1049.6,1105.6,1056.1S1182,1085.7,1214.7,1104.9S1291.1,1161.7,1323.8,1183.7S1400.2,1236.8,1432.9,1251.3Q1454.7,1260.9,1542,1280.2" stroke="#333" stroke-width="2" fill="none"/></g>
<g opacity="0.995"><path d="M332.0,1336.0V1336.0M1532.0,1254.0V1336.0" stroke="#666" stroke-width="2" fill="none"/><path d="M332,1336Q419.3,1293.6,441.1,1284.4C473.8,1270.5,517.5,1253.3,550.2,1243.7S626.5,1236,659.3,1220.3S735.6,1159.7,768.4,1138.7S844.7,1092.1,877.5,1080.4S953.8,1062.7,986.5,1060.2S1062.9,1056.7,1095.6,1064S1172,1091.8,1204.7,1108.6S1281.1,1157.8,1313.8,1176.5S1390.2,1221.3,1422.9,1232.9Q1444.7,1240.7,1532,1254" stroke="#333" stroke-width="2" fill="none"/></g>
<g opacity="0.996"><path d="M322.0,1345.0V1300.6M1522.0,1258.0V1345.0" stroke="#666" stroke-width="2" fill="none"/><path d="M322,1300.6Q409.3,1350.6,431.1,1345C463.8,1336.6,507.5,1265.4,540.2,1244.4S616.5,1217.9,649.3,1205.2S725.6,1174.3,758.4,1159.6S834.7,1122,867.5,1107.1S943.8,1064,976.5,1060.1S1052.9,1070.9,1085.6,1081.6S1162,1120,1194.7,1131S1271.1,1139.9,1303.8,1155S1380.2,1216,1412.9,1231.4Q1434.7,1241.7,1522,1258" stroke="#333" stroke-width="2" fill="none"/></g>
<g opacity="0.997"><path d="M312.0,1354.0V1357.3M1512.0,1278.2V1354.0" stroke="#666" stroke-width="2" fill="none"/><path d="M312,1357.3Q399.3,1320.2,421.1,1311.5C453.8,1298.5,497.5,1283.4,530.2,1270.6S606.5,1240.7,639.3,1226.4S715.6,1190.1,748.4,1175S824.7,1136.7,857.5,1126.2S933.8,1106.3,966.5,1105.2S1042.9,1112.2,1075.6,1119S1152,1139.9,1184.7,1150.6S1261.1,1176.1,1293.8,1190.3S1370.2,1232.6,1402.9,1245.8Q1424.7,1254.6,1512,1278.2" stroke="#333" stroke-width="2" fill="none"/></g>
<g opacity="0.998"><path d="M302.0,1363.0V1371.3M1502.0,1288.4V1363.0" stroke="#666" stroke-width="2" fill="none"/><path d="M302,1371.3Q389.3,1352.8,411.1,1343.9C443.8,1330.6,487.5,1298.1,520.2,1282.7S596.5,1257.3,629.3,1241.3S705.6,1192.8,738.4,1175.5S814.7,1137,847.5,1125.6S923.8,1100.3,956.5,1098.9S1032.9,1110.4,1065.6,1116.7S1142,1130.3,1174.7,1141S1251.1,1171.6,1283.8,1188.3S1360.2,1237.7,1392.9,1252.7Q1414.7,1262.7,1502,1288.4" stroke="#333" stroke-width="2" fill="none"/></g>
<g opacity="0.999"><path d="M292.0,1372.0V1357.0M1492.0,1386.5V1372.0" stroke="#666" stroke-width="2" fill="none"/><path d="M292,1357Q379.3,1339,401.1,1332.5C433.8,1322.7,477.5,1304.5,510.2,1291.8S586.5,1260.3,619.3,1247.8S695.6,1223.4,728.4,1208.4S804.7,1160.4,837.5,1148.4S913.8,1135.2,946.5,1128.5S1022.9,1099.9,1055.6,1103.7S1132,1139.5,1164.7,1153.5S1241.1,1171.5,1273.8,1196.7S1350.2,1292.5,1382.9,1321Q1404.7,1340,1492,1386.5" stroke="#333" stroke-width="2" fill="none"/></g>
<g opacity="0.999"><path d="M282.0,1381.0V1399.4M1482.0,1326.1V1381.0" stroke="#666" stroke-width="2" fill="none"/><path d="M282,1399.4Q369.3,1365.4,391.1,1358.9C423.8,1349,467.5,1346.8,500.2,1333.9S576.5,1289,609.3,1272.5S685.6,1239.7,718.4,1223.5S794.7,1184.6,827.5,1164.7S903.8,1098.4,936.5,1090.3S1012.9,1102.4,1045.6,1110.9S1122,1129.8,1154.7,1146.6S1231.1,1200.5,1263.8,1222.7S1340.2,1279.1,1372.9,1294.6Q1394.7,1305,1482,1326.1" stroke="#333" stroke-width="2" fill="none"/></g>
<g opacity="1.000"><path d="M272.0,1390.0V1348.2M1472.0,1309.0V1390.0" stroke="#666" stroke-width="2" fill="none"/><path d="M272,1348.2Q359.3,1410,381.1,1408.4C413.8,1405.9,457.5,1351.8,490.2,1331.5S566.5,1290.4,599.3,1273.1S675.6,1233.9,708.4,1216.3S784.7,1166.5,817.5,1156.2S893.8,1148.6,926.5,1147.8S1002.9,1147.2,1035.6,1151.2S1112,1164.3,1144.7,1174.6S1221.1,1204.4,1253.8,1219.7S1330.2,1263,1362.9,1276.4Q1384.7,1285.4,1472,1309" stroke="#333" stroke-width="2" fill="none"/></g>
<g opacity="1.000"><path d="M262.0,1399.0V1429.1M1462.0,1359.4V1399.0" stroke="#666" stroke-width="2" fill="none"/><path d="M262,1429.1Q349.3,1426.2,371.1,1415.7C403.8,1399.9,447.5,1345.4,480.2,1323.8S556.5,1285.9,589.3,1272.1S665.6,1245.5,698.4,1232S774.7,1191.7,807.5,1181.9S883.8,1167.4,916.5,1166.9S992.9,1172.5,1025.6,1178.6S1102,1199.4,1134.7,1207S1211.1,1217.4,1243.8,1228.7S1320.2,1262.5,1352.9,1282.1Q1374.7,1295.2,1462,1359.4" stroke="#333" stroke-width="2" fill="none"/></g>
<g opacity="1.000"><path d="M252.0,1408.0V1378.8M1452.0,1335.0V1408.0" stroke="#666" stroke-width="2" fill="none"/><path d="M252,1378.8Q339.3,1442.7,361.1,1442.2C393.8,1441.6,437.5,1398.5,470.2,1374.6S546.5,1305.8,579.3,1282.8S655.6,1236.5,688.4,1221S764.7,1189.2,797.5,1179.2S873.8,1162.2,906.5,1154.2S982.9,1120.9,1015.6,1125.8S1092,1169.2,1124.7,1186.7S1201.1,1224.7,1233.8,1242.7S1310.2,1292.9,1342.9,1306.8Q1364.7,1316,1452,1335" stroke="#333" stroke-width="7.5" fill="none"/></g><text x="2194.0" y="751.0" font-family="Liberation Sans" font-size="46" fill="#d06767" opacity="0.743">2003</text>
<text x="2224.0" y="724.0" font-family="Liberation Sans" font-size="46" fill="#d06767" opacity="0.723">2006</text>
<text x="2234.0" y="715.0" font-family="Liberation Sans" font-size="46" fill="#d06767" opacity="0.717">1911</text>
<text x="1674.0" y="1219.0" font-family="Liberation Sans" font-size="46" fill="#d06767" opacity="0.973">1983</text>
<text x="1684.0" y="1210.0" font-family="Liberation Sans" font-size="46" fill="#d06767" opacity="0.970">1976</text>
<text x="1474.0" y="1399.0" font-family="Liberation Sans" font-size="46" fill="#4a86be" opacity="1.000">1963</text>
<text x="1464.0" y="1408.0" font-family="Liberation Sans" font-size="46" fill="#4a86be" opacity="1.000">1947</text>
 </svg>
</div>
</body></html>
